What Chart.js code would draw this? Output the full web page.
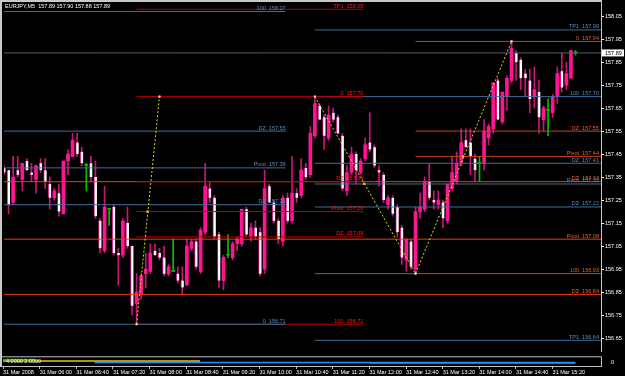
<!DOCTYPE html>
<html><head><meta charset="utf-8">
<script src="https://cdn.jsdelivr.net/npm/chart.js@4/dist/chart.umd.min.js"></script>
<style>
html,body{margin:0;padding:0;background:#000;overflow:hidden}
#wrap{position:relative;width:625px;height:376px;background:#000}
#main{position:absolute;left:0;top:0}
#sub{position:absolute;left:0;top:352px}
</style></head><body>
<div id="wrap"><canvas id="main" width="625" height="353"></canvas><canvas id="sub" width="625" height="24"></canvas></div>
<script>
// ---------- DATA ----------
const symbolName = 'EURJPY,M5';
const opens  = [157.39,157.38,157.24,157.38,157.34,157.42,157.37,157.34,157.41,157.38,157.32,157.26,157.28,157.19,157.42,157.44,157.50,157.46,157.40,157.41,157.35,157.16,157.03,157.21,157.22,157.02,157.01,157.15,157.05,156.80,156.84,156.93,156.94,157.03,157.02,157.00,156.93,156.94,156.93,156.90,156.88,157.04,157.07,156.94,157.11,157.30,157.26,157.10,156.90,157.01,157.00,157.06,157.06,157.21,157.09,157.13,157.11,156.95,157.31,157.24,157.16,157.07,157.26,157.16,157.28,157.27,157.39,157.36,157.53,157.66,157.61,157.52,157.63,157.61,157.53,157.29,157.37,157.45,157.37,157.43,157.50,157.48,157.38,157.36,157.23,157.26,157.22,157.13,156.99,157.07,156.95,157.20,157.21,157.33,157.25,157.23,157.24,157.16,157.30,157.33,157.41,157.51,157.50,157.43,157.41,157.41,157.52,157.56,157.77,157.59,157.70,157.77,157.89,157.86,157.80,157.77,157.70,157.72,157.60,157.64,157.63,157.70,157.81,157.75,157.78,157.89];
const highs  = [157.40,157.38,157.44,157.44,157.41,157.43,157.41,157.40,157.43,157.43,157.35,157.30,157.32,157.42,157.47,157.54,157.54,157.48,157.41,157.44,157.42,157.17,157.31,157.21,157.23,157.04,157.17,157.22,157.05,156.93,156.93,157.02,157.06,157.06,157.04,157.05,156.97,157.08,156.96,156.96,157.08,157.08,157.08,157.13,157.41,157.33,157.27,157.11,157.01,157.10,157.07,157.09,157.21,157.22,157.15,157.16,157.13,157.38,157.32,157.25,157.17,157.27,157.28,157.44,157.30,157.43,157.41,157.57,157.70,157.67,157.62,157.66,157.65,157.62,157.54,157.40,157.48,157.46,157.43,157.52,157.63,157.49,157.40,157.37,157.27,157.27,157.23,157.14,157.08,157.08,157.22,157.28,157.35,157.41,157.29,157.29,157.25,157.32,157.44,157.46,157.56,157.56,157.56,157.45,157.44,157.60,157.58,157.76,157.78,157.72,157.79,157.94,157.90,157.87,157.82,157.82,157.83,157.77,157.66,157.69,157.71,157.83,157.89,157.85,157.90,157.90];
const lows   = [157.36,157.19,157.23,157.35,157.29,157.38,157.33,157.28,157.37,157.30,157.21,157.25,157.18,157.19,157.36,157.44,157.44,157.40,157.29,157.33,157.17,157.02,157.02,157.14,157.01,156.88,157.00,157.04,156.75,156.71,156.82,156.87,156.93,157.01,156.99,156.92,156.92,156.94,156.89,156.84,156.88,157.03,156.95,156.93,157.10,157.24,157.08,156.87,156.86,157.00,156.99,157.03,157.05,157.09,157.07,157.08,156.92,156.93,157.24,157.15,157.06,157.05,157.15,157.15,157.24,157.26,157.34,157.35,157.52,157.60,157.47,157.51,157.59,157.54,157.29,157.27,157.36,157.32,157.36,157.42,157.46,157.39,157.31,157.24,157.21,157.18,157.09,156.97,156.94,156.95,156.93,157.17,157.20,157.25,157.21,157.21,157.13,157.15,157.29,157.32,157.40,157.48,157.36,157.33,157.33,157.38,157.49,157.54,157.60,157.58,157.64,157.76,157.77,157.73,157.70,157.63,157.65,157.54,157.55,157.53,157.61,157.67,157.72,157.73,157.78,157.88];
const closes = [157.37,157.23,157.35,157.36,157.41,157.38,157.36,157.40,157.38,157.33,157.26,157.29,157.20,157.42,157.45,157.51,157.45,157.41,157.40,157.35,157.18,157.04,157.22,157.21,157.02,157.01,157.16,157.05,156.79,156.85,156.92,156.95,157.02,157.01,157.00,156.93,156.96,156.94,156.90,156.87,157.05,157.07,156.96,157.12,157.31,157.26,157.09,156.90,157.00,157.01,157.06,157.08,157.21,157.10,157.13,157.09,156.93,157.30,157.24,157.16,157.08,157.26,157.16,157.28,157.26,157.38,157.35,157.54,157.67,157.60,157.53,157.62,157.60,157.54,157.30,157.37,157.45,157.38,157.42,157.49,157.47,157.40,157.37,157.25,157.26,157.19,157.11,157.00,157.08,156.96,157.20,157.22,157.33,157.26,157.24,157.25,157.17,157.32,157.37,157.41,157.50,157.48,157.44,157.38,157.41,157.55,157.57,157.76,157.60,157.72,157.78,157.91,157.85,157.78,157.78,157.69,157.73,157.61,157.65,157.64,157.70,157.80,157.74,157.80,157.90,157.89];

const priceTicks = [156.65,156.75,156.85,156.95,157.05,157.15,157.25,157.35,157.45,157.55,157.65,157.75,157.85,157.95,158.05];
const timeTickBars = [0,8,16,24,32,40,48,56,64,72,80,88,96,104,112,120];
const timeTickLabels = ['31 Mar 2008','31 Mar 06:00','31 Mar 06:40','31 Mar 07:20','31 Mar 08:00','31 Mar 08:40','31 Mar 09:20','31 Mar 10:00','31 Mar 10:40','31 Mar 11:20','31 Mar 12:00','31 Mar 12:40','31 Mar 13:20','31 Mar 14:00','31 Mar 14:40','31 Mar 15:20'];

// level sets (names + prices)
const leftNames   = ['100','DZ','Pivot','DZ','0'];
const leftPrices  = [158.07,157.55,157.39,157.23,156.71];
const midNames    = ['TP1','0','DZ','Pivot','DZ','100'];
const midPrices   = [158.08,157.70,157.33,157.20,157.09,156.71];
const blueNames   = ['TP1','100','DZ','Pivot','DZ','TP1'];
const bluePrices  = [157.99,157.70,157.41,157.32,157.22,156.64];
const blueZeroPrice = [156.93];
const orangeNames = ['0','DZ','Pivot','100'];
const orangePrices= [157.94,157.55,157.44,156.93];
const fullNames   = ['DZ','Pivot','DZ'];
const fullPrices  = [157.33,157.08,156.84];

// zigzag vertices (bar index, price)
const zigA_bars = [29,34];          const zigA_prices = [156.71,157.70];
const zigB_bars = [68,90,111];      const zigB_prices = [157.70,156.93,157.94];
const midMark_bars = [31.4,78.8,100.4]; const midMark_prices = [157.20,157.32,157.44];

// sub window indicator segments
const subLevels = [2,1,0,-0.6];
const subFrom   = [0,0,20,80];
const subTo     = [7,43,125,125];
const subText = '4.0000 2.0000';

// ---------- BUILD ----------
const N = opens.length;
const idx = opens.map((_,i)=>i);
const XMAX = 130.57;
const FONT = '"Liberation Sans", Arial, sans-serif';
const PINK = '#ff1493', WICK = '#cc1478', GREEN = '#00c000';
const isDoji = i => opens[i]===closes[i];
const isBull = i => closes[i]>opens[i];
const bodyColors = idx.map(i=> isDoji(i) ? GREEN : (isBull(i) ? PINK : '#ffffff'));
const bodyBorders = idx.map(i=> isDoji(i) ? 0 : (isBull(i) ? 0 : {left:1,right:0,top:0,bottom:0}));
const wickColors = idx.map(i=> isDoji(i) ? GREEN : WICK);

const sets = [
  {names:leftNames, prices:leftPrices, from:0, to:61.6, labelEnd:61.6, line:'#3f6e9c', text:'#5a8cc0'},
  {names:midNames, prices:midPrices, from:29, to:78.6, labelEnd:78.6, line:'#b80000', text:'#ff1a1a'},
  {names:blueNames, prices:bluePrices, from:68, to:XMAX, labelEnd:XMAX-0.45, line:'#3f6e9c', text:'#5a8cc0'},
  {names:[''], prices:blueZeroPrice, from:68, to:90, labelEnd:90, line:'#3f6e9c', text:'#5a8cc0'},
  {names:orangeNames, prices:orangePrices, from:90, to:XMAX, labelEnd:XMAX-0.45, line:'#c4461a', text:'#e8602a'},
  {names:fullNames, prices:fullPrices, from:0, to:XMAX, labelEnd:XMAX-0.45, line:'#f03c10', text:'#e8602a'}
];

const datasets = [];
datasets.push({type:'bar', data: idx.map(i=>({x:i,y:[lows[i],highs[i]]})), backgroundColor:wickColors, barThickness:1, grouped:false, borderWidth:0, minBarLength:1, order:20});
datasets.push({type:'bar', data: idx.map(i=>({x:i,y:[opens[i],closes[i]]})), backgroundColor:bodyColors, borderColor:WICK, borderWidth:bodyBorders, borderSkipped:false, barThickness:3, grouped:false, minBarLength:1, order:19});
sets.forEach(s=> s.prices.forEach(p=>{
  datasets.push({type:'line', data:[{x:s.from,y:p},{x:s.to,y:p}], borderColor:s.line, borderWidth:1, pointRadius:0, order:10});
}));
// current price line
datasets.push({type:'line', data:[{x:0,y:closes[N-1]},{x:XMAX,y:closes[N-1]}], borderColor:'#566170', borderWidth:1, pointRadius:0, order:11});
// zigzags
[[zigA_bars,zigA_prices],[zigB_bars,zigB_prices]].forEach(([b,p])=>{
  datasets.push({type:'line', data:b.map((v,k)=>({x:v,y:p[k]})), borderColor:'#dada1a', borderWidth:1, borderDash:[2,2], pointRadius:1.5, pointStyle:'rect', pointBackgroundColor:'#f0e8c0', pointBorderWidth:0, order:3});
});
datasets.push({type:'scatter', data:midMark_bars.map((v,k)=>({x:v,y:midMark_prices[k]})), pointRadius:1.6, pointStyle:'rect', backgroundColor:'#ffc040', borderWidth:0, order:2});

const decor = {
  id:'decor',
  beforeDraw(chart){ const c=chart.ctx; c.save(); c.fillStyle='#000'; c.fillRect(0,0,chart.width,chart.height); c.restore(); },
  afterDraw(chart){
    const {ctx, scales:{x,y}} = chart;
    ctx.save();
    ctx.font = '5.5px '+FONT; ctx.textAlign='right'; ctx.textBaseline='alphabetic';
    sets.forEach(s=> s.names.forEach((n,k)=>{
      if(!n) return;
      const py = y.getPixelForValue(s.prices[k]);
      ctx.fillStyle = s.text;
      ctx.fillText(n+'  '+s.prices[k].toFixed(2), x.getPixelForValue(s.labelEnd), py-1.5);
    }));
    // title
    ctx.textAlign='left'; ctx.textBaseline='top'; ctx.fillStyle='#ffffff';
    ctx.font = '5.5px '+FONT;
    ctx.fillText(symbolName+'  '+[opens[N-1],highs[N-1],lows[N-1],closes[N-1]].map(v=>v.toFixed(2)).join(' '), 5, 3.5);
    // current price tag
    const py = y.getPixelForValue(closes[N-1]);
    ctx.fillStyle='#ffffff'; ctx.fillRect(602, py-3.5, 22, 7);
    ctx.fillStyle='#000000'; ctx.textBaseline='middle'; ctx.fillText(closes[N-1].toFixed(2), 605, py+0.3);
    // frame
    ctx.fillStyle='#c8c8c8';
    ctx.fillRect(0,0,602,2); ctx.fillRect(0,0,2,353); ctx.fillRect(601,2,1,351);
    ctx.restore();
  }
};

new Chart(document.getElementById('main'), {
  type:'bar',
  data:{datasets},
  options:{
    responsive:false, animation:false, events:[],
    layout:{padding:{left:3,top:3,right:0,bottom:1}},
    plugins:{legend:{display:false}, tooltip:{enabled:false}},
    scales:{
      x:{type:'linear', min:0, max:XMAX, offset:false, display:false},
      y:{type:'linear', position:'right', min:156.6036, max:158.1015, beginAtZero:false,
         afterBuildTicks:s=>{ s.ticks = priceTicks.map(v=>({value:v})); },
         afterFit:s=>{ s.width = 24; },
         ticks:{color:'#ffffff', font:{size:5.5, family:FONT}, padding:1, autoSkip:false, callback:v=>Number(v).toFixed(2)},
         grid:{drawOnChartArea:false, drawTicks:true, tickLength:3, color:'#ffffff'},
         border:{display:false}}
    }
  },
  plugins:[decor]
});

// ---------- SUB WINDOW ----------
const subColors = ['#00c000','#e8c800','#1e90ff','#ff2020'];
const subDatasets = subLevels.map((lv,k)=>({type:'line', data:[{x:subFrom[k],y:lv},{x:subTo[k],y:lv}], borderColor:subColors[k], borderWidth:1.5, pointRadius:0}));
const subDecor = {
  id:'subDecor',
  beforeDraw(chart){ const c=chart.ctx; c.save(); c.fillStyle='#000'; c.fillRect(0,0,chart.width,chart.height); c.restore(); },
  afterDraw(chart){
    const c=chart.ctx; const a=chart.chartArea;
    c.save();
    c.strokeStyle='#c0c0c0'; c.lineWidth=1;
    c.strokeRect(1.5, a.top-0.5, 600, a.bottom-a.top+1);
    c.fillStyle='#c8c8c8'; c.fillRect(0,0,2,a.bottom+1);
    c.font='5.5px '+FONT; c.fillStyle='#ffffff'; c.textAlign='left'; c.textBaseline='middle';
    c.fillText(subText, 6, 9.5);
    c.restore();
  }
};
new Chart(document.getElementById('sub'), {
  type:'line',
  data:{datasets:subDatasets},
  options:{
    responsive:false, animation:false, events:[],
    layout:{padding:{left:3,top:2,right:0,bottom:0}},
    plugins:{legend:{display:false}, tooltip:{enabled:false}},
    scales:{
      x:{type:'linear', min:0, max:XMAX, offset:false, position:'bottom',
         afterBuildTicks:s=>{ s.ticks = timeTickBars.map(v=>({value:v})); },
         afterFit:s=>{ s.height = 10; },
         ticks:{color:'#ffffff', font:{size:5.5, family:FONT}, align:'start', padding:0, maxRotation:0, autoSkip:false,
                callback:(v,i)=>timeTickLabels[i]},
         grid:{drawOnChartArea:false, drawTicks:true, tickLength:3, color:'#c0c0c0'},
         border:{display:false}},
      y:{type:'linear', position:'right', min:-2.5, max:3.5,
         afterBuildTicks:s=>{ s.ticks = [{value:0}]; },
         afterFit:s=>{ s.width = 24; },
         ticks:{color:'#ffffff', font:{size:5.5, family:FONT}, padding:2, callback:v=>String(v)},
         grid:{display:false}, border:{display:false}}
    }
  },
  plugins:[subDecor]
});
</script>
</body></html>
